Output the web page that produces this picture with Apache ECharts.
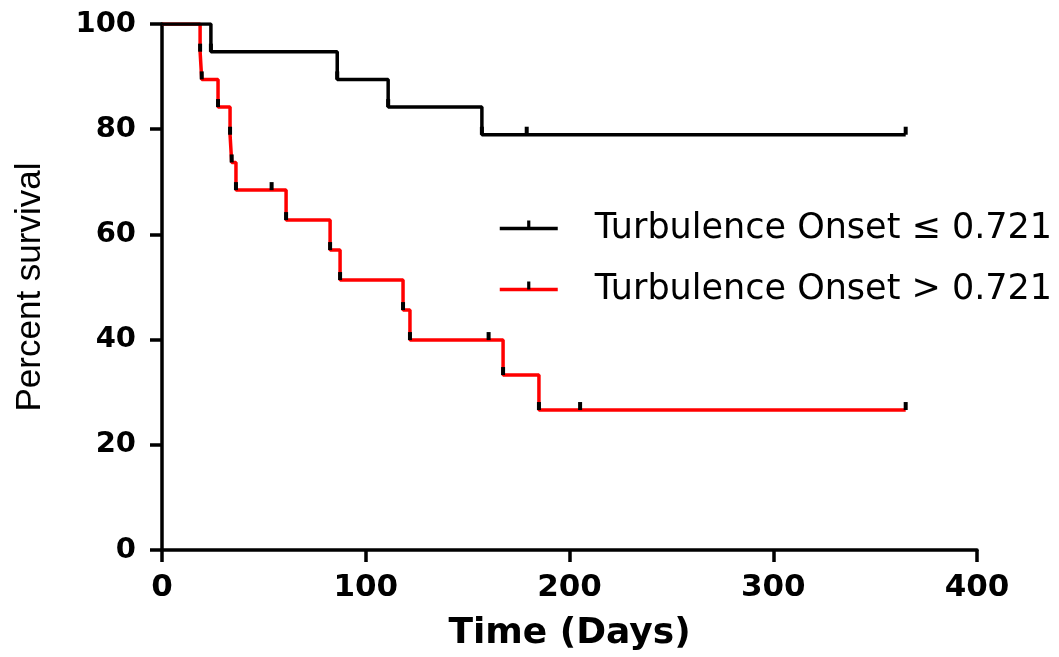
<!DOCTYPE html>
<html>
<head>
<meta charset="utf-8">
<script src="https://cdn.jsdelivr.net/npm/echarts@6/dist/echarts.min.js"></script>
<style>
html,body{margin:0;padding:0;background:#fff;}
#chart{width:1059px;height:657px;}
</style>
</head>
<body>
<div id="chart"></div>
<script>
// ---- data ----
const seriesNames = ['Turbulence Onset \u2264 0.721', 'Turbulence Onset > 0.721'];
// group 1 (black): days and percent survival after each event / censor
const lowDays     = [0, 24, 86, 111, 157, 179, 365];
const lowSurvival = [100, 94.74, 89.47, 84.21, 78.95, 78.95, 78.95];
// group 2 (red)
const highDays     = [0, 18.7, 19.5, 27.5, 33.4, 34.2, 36.3, 53.8, 60.9, 82.5, 87.4, 118.3, 121.7, 160.3, 167.4, 185, 205.2, 365];
const highSurvival = [100, 94.74, 89.47, 84.21, 78.95, 73.68, 68.42, 68.42, 62.72, 57.02, 51.32, 45.61, 39.91, 39.91, 33.26, 26.61, 26.61, 26.61];
const xTicks = [0, 100, 200, 300, 400];
const yTicks = [0, 20, 40, 60, 80, 100];

function pairs(xs, ys) {
  return xs.map((x, i) => i === 0 ? { value: [x, ys[i]], symbol: 'none' } : [x, ys[i]]);
}

// tick mark symbol: a small vertical bar in the upper half of its box
const tickSymbol = 'path://M0,0L0,0M10,10L10,10M4,0L6,0L6,5L4,5Z';

const chart = echarts.init(document.getElementById('chart'));
chart.setOption({
  animation: false,
  backgroundColor: '#fff',
  grid: { left: 162, right: 82, top: 24, bottom: 107, containLabel: false },
  legend: {
    orient: 'vertical',
    left: 493,
    top: 206,
    itemWidth: 58,
    itemHeight: 20,
    itemGap: 26,
    data: seriesNames,
    lineStyle: { width: 3.5 },
    textStyle: {
      fontFamily: 'DejaVu Sans',
      fontSize: 35,
      color: '#000',
      padding: [0, 0, 0, 32]
    }
  },
  xAxis: {
    type: 'value',
    min: xTicks[0],
    max: xTicks[xTicks.length - 1],
    interval: 100,
    name: 'Time (Days)',
    nameLocation: 'middle',
    nameGap: 66,
    nameTextStyle: { fontFamily: 'DejaVu Sans', fontWeight: 'bold', fontSize: 36, color: '#000' },
    axisLine: { lineStyle: { color: '#000', width: 3.5 } },
    axisTick: { show: true, length: 12, lineStyle: { color: '#000', width: 3.5 } },
    axisLabel: { margin: 22, fontFamily: 'DejaVu Sans', fontWeight: 'bold', fontSize: 31, color: '#000' },
    splitLine: { show: false }
  },
  yAxis: {
    type: 'value',
    min: yTicks[0],
    max: yTicks[yTicks.length - 1],
    interval: 20,
    name: 'Percent survival',
    nameLocation: 'middle',
    nameGap: 114,
    nameTextStyle: { fontFamily: 'Liberation Sans', fontSize: 35, color: '#000' },
    axisLine: { show: true, lineStyle: { color: '#000', width: 3.5 } },
    axisTick: { show: true, length: 12, lineStyle: { color: '#000', width: 3.5 } },
    axisLabel: { margin: 26, fontFamily: 'DejaVu Sans', fontWeight: 'bold', fontSize: 29, color: '#000' },
    splitLine: { show: false }
  },
  series: [
    {
      name: seriesNames[1],
      type: 'line',
      step: 'end',
      data: pairs(highDays, highSurvival),
      symbol: tickSymbol,
      symbolSize: [20, 16],
      showAllSymbol: true,
      lineStyle: { color: '#ff0000', width: 3.5 },
      itemStyle: { color: '#000', borderWidth: 0 },
      z: 2
    },
    {
      name: seriesNames[0],
      type: 'line',
      step: 'end',
      data: pairs(lowDays, lowSurvival),
      symbol: tickSymbol,
      symbolSize: [20, 16],
      showAllSymbol: true,
      lineStyle: { color: '#000', width: 3.5 },
      itemStyle: { color: '#000', borderWidth: 0 },
      z: 3
    }
  ]
});
</script>
</body>
</html>
